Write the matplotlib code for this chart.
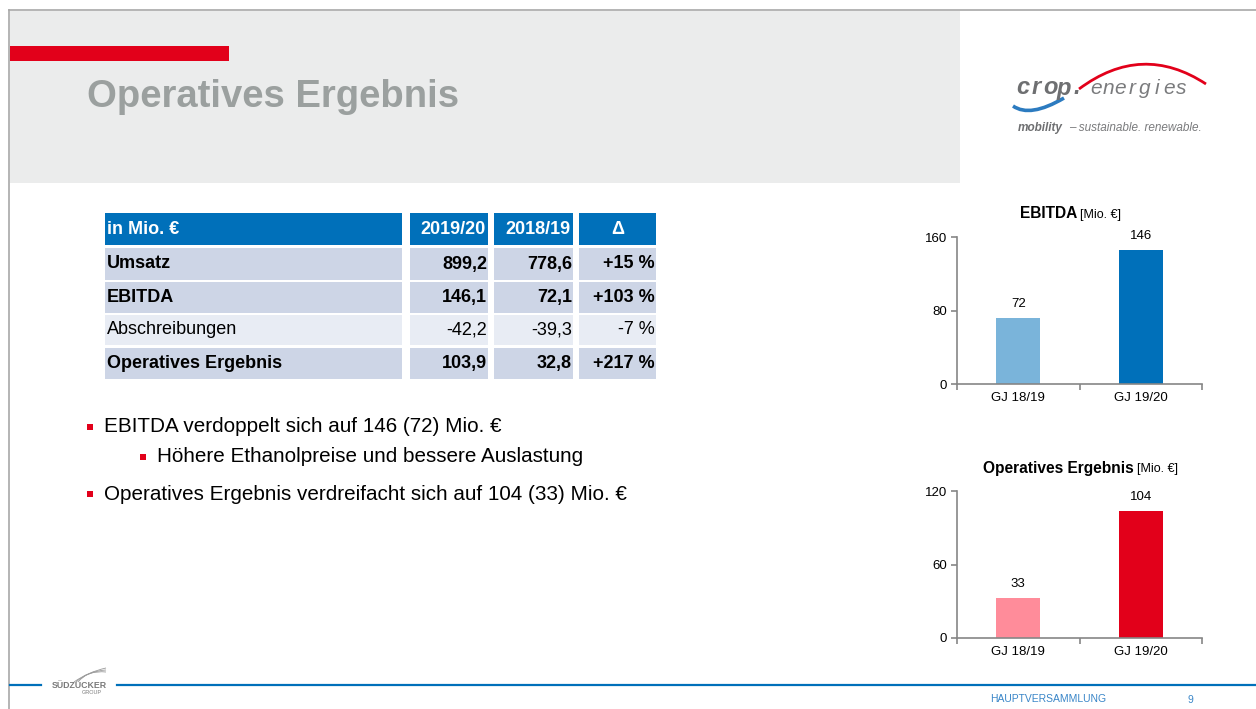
import matplotlib.pyplot as plt
from matplotlib.patches import Rectangle, PathPatch
from matplotlib.path import Path

plt.rcParams['font.family'] = ['Liberation Sans', 'DejaVu Sans']

W, H = 1256, 709

# ==============================
# Data
# ==============================

table_header = ["in Mio. €", "2019/20", "2018/19", "Δ"]
row_labels = ["Umsatz", "EBITDA", "Abschreibungen", "Operatives Ergebnis"]
fy_1920 = [899.2, 146.1, -42.2, 103.9]
fy_1819 = [778.6, 72.1, -39.3, 32.8]
delta_pct = [15, 103, -7, 217]
row_bold = [True, True, False, True]

bullet_texts = [
    "EBITDA verdoppelt sich auf 146 (72) Mio. €",
    "Höhere Ethanolpreise und bessere Auslastung",
    "Operatives Ergebnis verdreifacht sich auf 104 (33) Mio. €",
]
bullet_level = [0, 1, 0]

years = ["GJ 18/19", "GJ 19/20"]
ebitda = [72.1, 146.1]
op_result = [32.8, 103.9]

BLUE = "#0070BA"
RED = "#E2001A"
GRAY_TITLE = "#9BA09F"
AXIS_GRAY = "#868686"


def fmt_num(v):
    return f"{v:.1f}".replace(".", ",")


def fmt_pct(v):
    return f"{v:+d} %"


def px_rect(x0, y0, x1, y1):
    return [x0 / W, 1 - y1 / H, (x1 - x0) / W, (y1 - y0) / H]


fig = plt.figure(figsize=(W / 100, H / 100), dpi=100)

# background / slide frame in pixel coordinates
bg = fig.add_axes([0, 0, 1, 1])
bg.set_xlim(0, W)
bg.set_ylim(H, 0)
bg.axis("off")

bg.add_patch(Rectangle((10, 11), 950, 172, color="#EBECEC", lw=0))
bg.plot([9, W], [10, 10], color="#A8A8A8", lw=1.2)
bg.plot([9, 9], [10, H], color="#A8A8A8", lw=1.2)
bg.add_patch(Rectangle((10, 46), 219, 15, color=RED, lw=0))
bg.text(87, 97, "Operatives Ergebnis", fontsize=27.5, fontweight="bold",
        color=GRAY_TITLE, va="center", ha="left")

# ==============================
# Logo (crop energies)
# ==============================

for i, ch in enumerate("crop."):
    bg.text(1023 + i * 13.5, 88, ch, fontsize=17, fontweight="bold",
            style="italic", color="#6E6F71", va="center", ha="center")
for i, ch in enumerate("energies"):
    bg.text(1096 + i * 12.2, 88, ch, fontsize=15, style="italic",
            color="#7A7B7D", va="center", ha="center")
arc = Path([(1079, 89), (1142, 42), (1206, 84)],
           [Path.MOVETO, Path.CURVE3, Path.CURVE3])
bg.add_patch(PathPatch(arc, fill=False, edgecolor=RED, lw=2.0))
swoosh = Path([(1013, 106), (1030, 118), (1064, 98)],
              [Path.MOVETO, Path.CURVE3, Path.CURVE3])
bg.add_patch(PathPatch(swoosh, fill=False, edgecolor="#2C7BC0", lw=2.6))
bg.text(1018, 128, "mobility", fontsize=8.5, fontweight="bold", style="italic",
        color="#6E6F71", va="center", ha="left")
bg.text(1069, 128, "– sustainable. renewable.", fontsize=8.5, style="italic",
        color="#7A7B7D", va="center", ha="left")

# ==============================
# Table
# ==============================

col_x = [(105, 402), (410, 488), (494, 573), (579, 656)]
row_y = [(213, 245), (248, 280), (282, 313), (315, 345), (348, 379)]
TFS = 13

for c, (x0, x1) in enumerate(col_x):
    y0, y1 = row_y[0]
    bg.add_patch(Rectangle((x0, y0), x1 - x0, y1 - y0, color=BLUE, lw=0))
    yc = (y0 + y1) / 2
    if c == 0:
        bg.text(x0 + 2, yc, table_header[c], color="white", fontsize=TFS,
                fontweight="bold", va="center", ha="left")
    elif c == 3:
        bg.text((x0 + x1) / 2, yc, table_header[c], color="white", fontsize=TFS,
                fontweight="bold", va="center", ha="center")
    else:
        bg.text(x1 - 2, yc, table_header[c], color="white", fontsize=TFS,
                fontweight="bold", va="center", ha="right")

for r, label in enumerate(row_labels):
    y0, y1 = row_y[r + 1]
    yc = (y0 + y1) / 2
    fill = "#CDD5E6" if row_bold[r] else "#E8ECF4"
    weight = "bold" if row_bold[r] else "normal"
    cells = [label, fmt_num(fy_1920[r]), fmt_num(fy_1819[r]), fmt_pct(delta_pct[r])]
    for c, (x0, x1) in enumerate(col_x):
        bg.add_patch(Rectangle((x0, y0), x1 - x0, y1 - y0, color=fill, lw=0))
        if c == 0:
            bg.text(x0 + 2, yc, cells[c], fontsize=TFS, fontweight=weight,
                    color="black", va="center", ha="left")
        else:
            bg.text(x1 - 1, yc, cells[c], fontsize=TFS, fontweight=weight,
                    color="black", va="center", ha="right")

# ==============================
# Bullets
# ==============================

bullet_y = [427, 457, 494]
for text, lvl, y in zip(bullet_texts, bullet_level, bullet_y):
    bx = 87 if lvl == 0 else 140
    bg.add_patch(Rectangle((bx, y - 3), 6, 6, color=RED, lw=0))
    bg.text(bx + 17, y, text, fontsize=14.9, color="black",
            va="center", ha="left")

# ==============================
# Bar charts
# ==============================


def bar_chart(rect, vals, colors, ymax, title, split_x, title_y):
    ax = fig.add_axes(px_rect(*rect))
    pos = list(range(len(vals)))
    ax.bar(pos, vals, width=0.36, color=colors, zorder=2)
    ax.set_xlim(-0.5, len(vals) - 0.5)
    ax.set_ylim(0, ymax)
    ax.set_yticks([0, ymax / 2, ymax])
    ax.set_yticklabels([f"{int(t)}" for t in [0, ymax / 2, ymax]])
    ax.set_xticks(pos)
    ax.set_xticklabels(years)
    ax.set_xticks([-0.5, 0.5, 1.5], minor=True)
    ax.tick_params(axis="x", which="major", length=0, pad=6, labelsize=9.5)
    ax.tick_params(axis="x", which="minor", length=4, width=1.2,
                   color=AXIS_GRAY, direction="out")
    ax.tick_params(axis="y", length=4, width=1.2, color=AXIS_GRAY,
                   direction="out", labelsize=9.5, pad=3)
    for s in ["top", "right"]:
        ax.spines[s].set_visible(False)
    for s in ["left", "bottom"]:
        ax.spines[s].set_color(AXIS_GRAY)
        ax.spines[s].set_linewidth(1.2)
    ax.patch.set_alpha(0)
    for p, v in zip(pos, vals):
        ax.text(p, v + ymax * 8 / 147, f"{round(v)}", ha="center",
                va="bottom", fontsize=9.5)
    bg.text(split_x, title_y, title, fontsize=11.2, fontweight="bold",
            ha="right", va="center")
    bg.text(split_x + 3, title_y + 1, "[Mio. €]", fontsize=9,
            ha="left", va="center")
    return ax


bar_chart((957, 237, 1202, 384), ebitda, ["#7AB4DA", BLUE], 160,
          "EBITDA", 1077, 214)
bar_chart((957, 491, 1202, 638), op_result, ["#FF8C9A", RED], 120,
          "Operatives Ergebnis", 1134, 468)

# ==============================
# Footer
# ==============================

bg.plot([10, 41], [685, 685], color=BLUE, lw=1.6)
bg.plot([117, W], [685, 685], color=BLUE, lw=1.6)
bg.text(79, 685, "SÜDZUCKER", fontsize=6.3, fontweight="bold", color="#7A7A7A",
        ha="center", va="center")
bg.text(92, 693, "GROUP", fontsize=4, color="#7A7A7A", ha="center", va="center")
for k in range(3):
    wheat = Path([(74 + k * 2, 682), (88, 672 - k), (106, 668 + k * 2)],
                 [Path.MOVETO, Path.CURVE3, Path.CURVE3])
    bg.add_patch(PathPatch(wheat, fill=False, edgecolor="#9A9A9A", lw=0.6))
bg.text(990, 699, "HAUPTVERSAMMLUNG", fontsize=7.5, color="#3A86C8",
        ha="left", va="center")
bg.text(1190, 700, "9", fontsize=7.5, color="#3A86C8", ha="center", va="center")

fig.savefig("out.png", dpi=100)
